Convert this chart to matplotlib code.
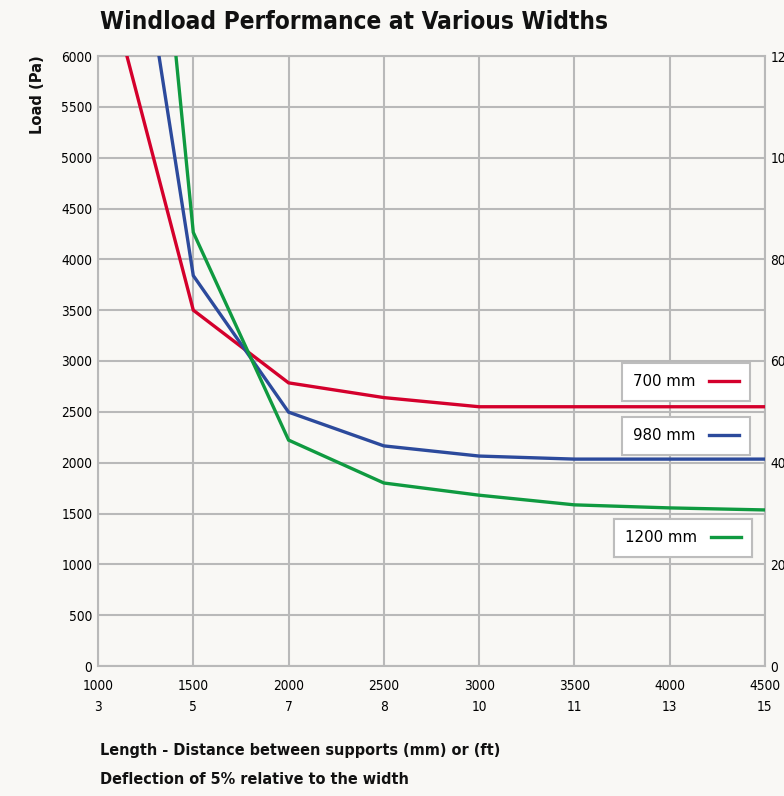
import matplotlib
matplotlib.use("Agg")
import matplotlib.pyplot as plt

plt.rcParams['font.family'] = ['DejaVu Sans']
plt.rcParams['font.stretch'] = 'condensed'

# Data
lengths_mm = [1000, 1500, 2000, 2500, 3000, 3500, 4000, 4500]
lengths_ft = ['3', '5', '7', '8', '10', '11', '13', '15']
load_700 = [7090, 3500, 2785, 2640, 2550, 2550, 2550, 2550]
load_980 = [9840, 3840, 2497, 2165, 2065, 2035, 2035, 2035]
load_1200 = [13800, 4265, 2222, 1800, 1680, 1585, 1555, 1535]
series_labels = ['700 mm', '980 mm', '1200 mm']
series_colors = ['#d4002c', '#2c4a9c', '#0f9a40']
y_ticks_pa = [0, 500, 1000, 1500, 2000, 2500, 3000, 3500, 4000, 4500, 5000, 5500, 6000]
y_ticks_psf = [0, 20, 40, 60, 80, 100, 120]

bg = '#f9f8f5'
grid_c = '#b9b9b9'

fig = plt.figure(figsize=(7.84, 7.96), dpi=100, facecolor=bg)
ax = fig.add_axes([98/784, 1-666/796, (765-98)/784, (666-56)/796])
ax.set_facecolor(bg)

lines = []
for vals, c in zip([load_700, load_980, load_1200], series_colors):
    ln, = ax.plot(lengths_mm, vals, color=c, lw=2.4, solid_joinstyle='miter', zorder=3)
    lines.append(ln)

ax.set_xlim(1000, 4500)
ax.set_ylim(0, 6000)
ax.set_xticks(lengths_mm)
ax.set_xticklabels([f"{m}\n{f}" for m, f in zip(lengths_mm, lengths_ft)], fontsize=9.8, linespacing=1.7)
ax.set_yticks(y_ticks_pa)
ax.set_yticklabels([str(v) for v in y_ticks_pa], fontsize=9.8)
ax.tick_params(length=0, pad=4)
ax.tick_params(axis='x', pad=9)
ax.grid(True, color=grid_c, lw=1.5, zorder=1)
for s in ax.spines.values():
    s.set_color(grid_c)
    s.set_linewidth(1.5)

ax2 = ax.twinx()
ax2.set_ylim(0, 120)
ax2.set_yticks(y_ticks_psf)
ax2.set_yticklabels([str(v) for v in y_ticks_psf], fontsize=9.8)
ax2.tick_params(length=0, pad=4)
for s in ax2.spines.values():
    s.set_visible(False)

# Separate legend boxes
leg_pos = [(750/784, 1-363/796), (750/784, 1-417/796), (752/784, 1-519/796)]
for ln, lab, pos in zip(lines, series_labels, leg_pos):
    leg = ax.legend([ln], [lab], loc='upper right', bbox_to_anchor=pos,
                    bbox_transform=fig.transFigure, markerfirst=False,
                    prop={'size': 10.8, 'stretch': 'normal'}, frameon=True, fancybox=False, framealpha=1,
                    edgecolor='#bdbdbd', facecolor='white', handlelength=2.0,
                    borderpad=0.75, handletextpad=0.9, borderaxespad=0)
    leg.get_frame().set_linewidth(1.5)
    leg.set_zorder(5)
    ax.add_artist(leg)

fig.text(100/784, 1-22/796, 'Windload Performance at Various Widths', fontsize=17.5,
         fontweight='bold', ha='left', va='center', color='#111111')
fig.text(38/784, 1-95/796, 'Load (Pa)', fontsize=11.8, fontweight='bold', rotation=90,
         ha='center', va='center', color='#111111')
fig.text(100/784, 1-751/796, 'Length - Distance between supports (mm) or (ft)', fontsize=11.6,
         fontweight='bold', ha='left', va='center', color='#111111')
fig.text(100/784, 1-779/796, 'Deflection of 5% relative to the width', fontsize=11.6,
         fontweight='bold', ha='left', va='center', color='#111111')

fig.savefig('out.png', dpi=100, facecolor=bg)
